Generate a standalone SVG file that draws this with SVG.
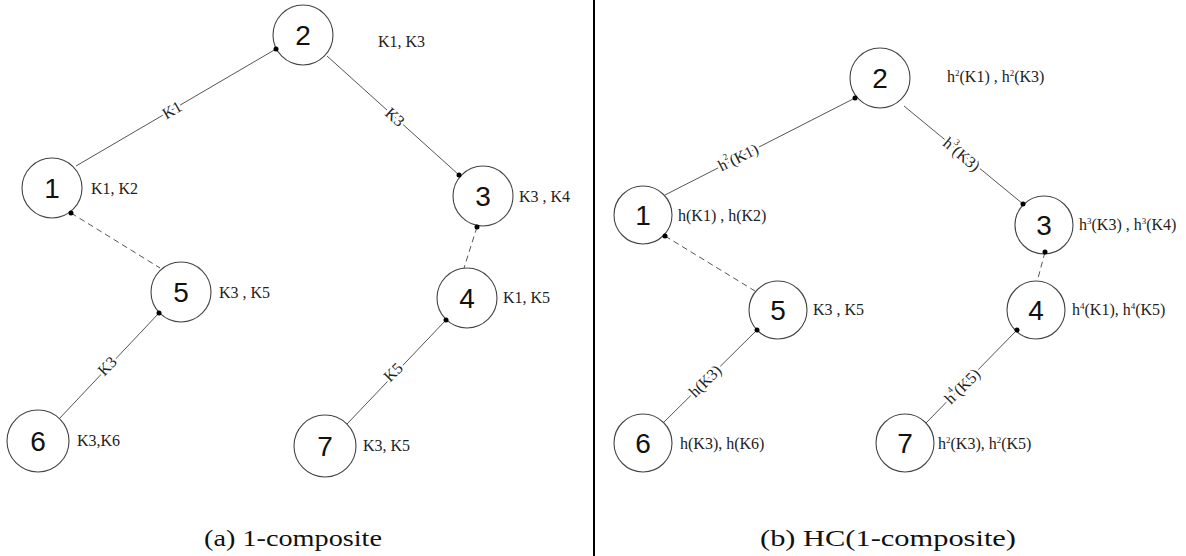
<svg xmlns="http://www.w3.org/2000/svg" width="1186" height="556" viewBox="0 0 1186 556">
<style>
.node circle{fill:#fff;stroke:#444;stroke-width:1.1}
.num{font-family:"Liberation Sans",Arial,sans-serif;font-size:28px;fill:#111;text-anchor:middle;dominant-baseline:central}
.lbl{font-family:"Liberation Serif","Times New Roman",serif;font-size:16px;fill:#222}
.sup{font-size:9px}
.edge{stroke:#555;stroke-width:1;fill:none}
.dash{stroke-dasharray:6 4}
.elbl{font-family:"Liberation Serif","Times New Roman",serif;font-size:16px;fill:#222;text-anchor:middle;dominant-baseline:central;paint-order:stroke;stroke:#fff;stroke-width:5px;stroke-linejoin:round}
.dot{fill:#000}
.cap{font-family:"Liberation Serif","Times New Roman",serif;font-size:24px;fill:#111;text-anchor:middle}
</style>
<rect width="1186" height="556" fill="#fff"/>
<line x1="594" y1="0" x2="594" y2="556" stroke="#000" stroke-width="2"/>

<g id="connectors">
  <!-- left panel -->
  <line class="edge" x1="76" y1="166" x2="276" y2="49"/>
  <line class="edge" x1="327" y1="56" x2="459" y2="175"/>
  <line class="edge dash" x1="71" y1="213" x2="160" y2="268"/>
  <line class="edge dash" x1="477" y1="227" x2="464" y2="268"/>
  <line class="edge" x1="159" y1="313" x2="59" y2="419"/>
  <line class="edge" x1="446" y1="320" x2="347" y2="424"/>
  <text class="elbl" transform="translate(172,110) rotate(-30.3)">K1</text>
  <text class="elbl" transform="translate(395,117) rotate(42)">K3</text>
  <text class="elbl" transform="translate(107,366) rotate(-46)">K3</text>
  <text class="elbl" transform="translate(393,372) rotate(-45)">K5</text>
  <!-- right panel -->
  <line class="edge" x1="665" y1="195" x2="855" y2="98"/>
  <line class="edge" x1="904" y1="106" x2="1023" y2="204"/>
  <line class="edge dash" x1="665" y1="236" x2="755" y2="291"/>
  <line class="edge dash" x1="1045" y1="252" x2="1037" y2="282"/>
  <line class="edge" x1="757" y1="330" x2="663" y2="423"/>
  <line class="edge" x1="1017" y1="330" x2="926" y2="423"/>
  <text class="elbl" transform="translate(738,157) rotate(-27)">h<tspan class="sup" dy="-6">2</tspan><tspan dy="6">(K1)</tspan></text>
  <text class="elbl" transform="translate(962,154) rotate(39.5)">h<tspan class="sup" dy="-6">3</tspan><tspan dy="6">(K3)</tspan></text>
  <text class="elbl" transform="translate(705,381) rotate(-44.5)">h(K3)</text>
  <text class="elbl" transform="translate(962,386) rotate(-45.3)">h<tspan class="sup" dy="-6">4</tspan><tspan dy="6">(K5)</tspan></text>
</g>

<!-- left panel nodes -->
<g id="a2" class="node"><circle cx="303" cy="35" r="30"/><text class="num" x="303" y="35">2</text><text class="lbl" x="378" y="47">K1, K3</text></g>
<g id="a1" class="node"><circle cx="52" cy="188" r="30"/><text class="num" x="52" y="188">1</text><text class="lbl" x="91" y="194">K1, K2</text></g>
<g id="a3" class="node"><circle cx="483" cy="196" r="30"/><text class="num" x="483" y="196">3</text><text class="lbl" x="519" y="202">K3 , K4</text></g>
<g id="a5" class="node"><circle cx="181" cy="292" r="30"/><text class="num" x="181" y="292">5</text><text class="lbl" x="219" y="298">K3 , K5</text></g>
<g id="a4" class="node"><circle cx="467" cy="298" r="30"/><text class="num" x="467" y="298">4</text><text class="lbl" x="503" y="303">K1, K5</text></g>
<g id="a6" class="node"><circle cx="38" cy="441" r="31"/><text class="num" x="38" y="441">6</text><text class="lbl" x="77" y="446">K3,K6</text></g>
<g id="a7" class="node"><circle cx="325" cy="446" r="31"/><text class="num" x="325" y="446">7</text><text class="lbl" x="363" y="451">K3, K5</text></g>

<!-- right panel nodes -->
<g id="b2" class="node"><circle cx="880" cy="78" r="30"/><text class="num" x="880" y="78">2</text><text class="lbl" x="947" y="82">h<tspan class="sup" dy="-6">2</tspan><tspan dy="6">(K1) , h</tspan><tspan class="sup" dy="-6">2</tspan><tspan dy="6">(K3)</tspan></text></g>
<g id="b1" class="node"><circle cx="643" cy="215" r="29"/><text class="num" x="643" y="215">1</text><text class="lbl" x="678" y="221">h(K1) , h(K2)</text></g>
<g id="b3" class="node"><circle cx="1044" cy="225" r="29"/><text class="num" x="1044" y="225">3</text><text class="lbl" x="1079" y="230">h<tspan class="sup" dy="-6">3</tspan><tspan dy="6">(K3) , h</tspan><tspan class="sup" dy="-6">3</tspan><tspan dy="6">(K4)</tspan></text></g>
<g id="b5" class="node"><circle cx="778" cy="310" r="29"/><text class="num" x="778" y="310">5</text><text class="lbl" x="813" y="315">K3 , K5</text></g>
<g id="b4" class="node"><circle cx="1036" cy="310" r="29"/><text class="num" x="1036" y="310">4</text><text class="lbl" x="1072" y="315">h<tspan class="sup" dy="-6">4</tspan><tspan dy="6">(K1), h</tspan><tspan class="sup" dy="-6">4</tspan><tspan dy="6">(K5)</tspan></text></g>
<g id="b6" class="node"><circle cx="643" cy="443" r="29"/><text class="num" x="643" y="443">6</text><text class="lbl" x="680" y="449">h(K3), h(K6)</text></g>
<g id="b7" class="node"><circle cx="905" cy="443" r="29"/><text class="num" x="905" y="443">7</text><text class="lbl" x="938" y="449">h<tspan class="sup" dy="-6">2</tspan><tspan dy="6">(K3), h</tspan><tspan class="sup" dy="-6">2</tspan><tspan dy="6">(K5)</tspan></text></g>

<!-- attachment dots -->
<g id="dots">
  <circle class="dot" cx="276" cy="49" r="2.5"/>
  <circle class="dot" cx="71" cy="213" r="2.5"/>
  <circle class="dot" cx="459" cy="175" r="2.5"/>
  <circle class="dot" cx="477" cy="227" r="2.5"/>
  <circle class="dot" cx="159" cy="313" r="2.5"/>
  <circle class="dot" cx="446" cy="320" r="2.5"/>
  <circle class="dot" cx="855" cy="98" r="2.5"/>
  <circle class="dot" cx="665" cy="236" r="2.5"/>
  <circle class="dot" cx="1023" cy="204" r="2.5"/>
  <circle class="dot" cx="1045" cy="252" r="2.5"/>
  <circle class="dot" cx="757" cy="330" r="2.5"/>
  <circle class="dot" cx="1017" cy="330" r="2.5"/>
</g>

<text class="cap" x="293" y="546" textLength="178" lengthAdjust="spacingAndGlyphs">(a) 1-composite</text>
<text class="cap" x="888" y="546" textLength="256" lengthAdjust="spacingAndGlyphs">(b) HC(1-composite)</text>
</svg>
